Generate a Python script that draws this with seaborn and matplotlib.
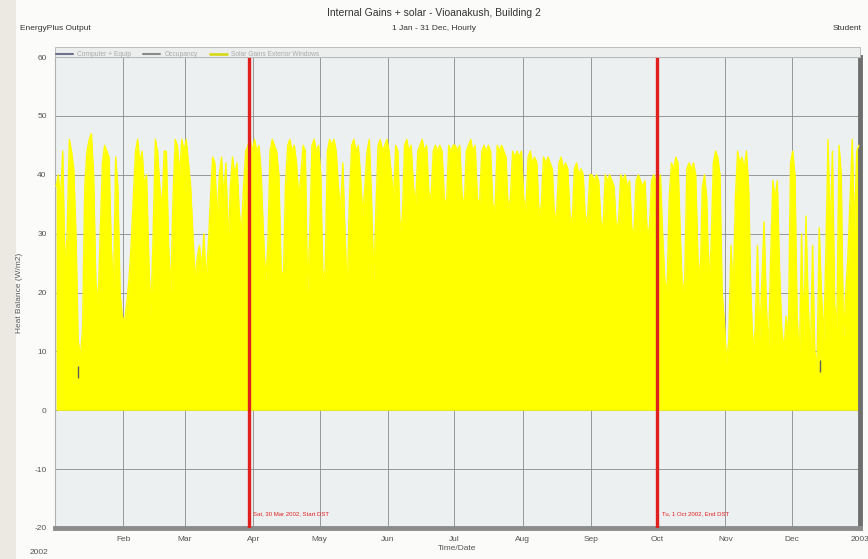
import numpy as np
import matplotlib.pyplot as plt
from matplotlib.patches import Rectangle
from matplotlib.lines import Line2D
import seaborn as sns

# Daily peak of "Solar Gains Exterior Windows" (W/m2)
jan = [38, 40, 36, 44, 24, 30, 46, 44, 41, 30, 12, 9, 14, 38, 44, 46, 47, 40, 22, 18, 30, 42, 45, 44, 43, 28, 20, 43, 38, 20, 16]
feb = [15, 18, 22, 28, 36, 44, 46, 42, 44, 38, 40, 26, 16, 30, 46, 44, 38, 34, 44, 44, 28, 20, 36, 46, 45, 40, 46, 44]
mar = [46, 42, 38, 30, 22, 26, 28, 24, 30, 22, 28, 36, 43, 42, 32, 40, 43, 36, 42, 28, 38, 43, 40, 42, 34, 30, 38, 44, 45, 46, 44]
apr = [46, 44, 45, 40, 30, 22, 28, 44, 46, 45, 44, 40, 24, 22, 38, 45, 46, 44, 45, 42, 36, 40, 45, 44, 20, 30, 45, 46, 44, 45]
may = [40, 22, 24, 44, 46, 45, 46, 44, 38, 34, 42, 30, 20, 36, 45, 46, 44, 45, 40, 33, 38, 44, 46, 36, 22, 34, 45, 46, 44, 45, 46]
jun = [44, 40, 36, 45, 44, 30, 33, 45, 46, 44, 45, 38, 35, 44, 45, 46, 44, 45, 37, 36, 44, 45, 44, 45, 44, 36, 35, 45, 44, 45]
jul = [45, 44, 45, 37, 34, 44, 45, 46, 44, 45, 36, 35, 44, 45, 44, 45, 44, 35, 34, 45, 44, 45, 44, 43, 34, 36, 44, 43, 44, 43, 44]
aug = [36, 34, 43, 44, 42, 43, 42, 33, 35, 43, 42, 43, 42, 41, 32, 34, 42, 43, 41, 42, 41, 33, 32, 41, 42, 40, 41, 40, 32, 33, 40]
sep = [40, 39, 40, 39, 32, 31, 40, 39, 40, 39, 38, 31, 32, 40, 39, 40, 38, 39, 31, 30, 39, 40, 39, 38, 39, 30, 31, 39, 40, 39]
oct_ = [38, 40, 30, 22, 20, 36, 42, 41, 43, 42, 30, 20, 22, 41, 42, 41, 42, 40, 26, 22, 38, 40, 36, 22, 28, 42, 44, 43, 40, 20, 15]
nov = [8, 12, 28, 20, 36, 44, 42, 43, 41, 44, 38, 20, 10, 14, 28, 12, 22, 32, 18, 10, 26, 39, 36, 39, 24, 14, 10, 16, 12, 42]
dec = [44, 40, 16, 8, 30, 12, 33, 18, 9, 28, 10, 7, 31, 20, 12, 26, 46, 30, 44, 18, 14, 45, 40, 12, 20, 26, 36, 46, 30, 44, 45]

month_names = ['Jan', 'Feb', 'Mar', 'Apr', 'May', 'Jun', 'Jul', 'Aug', 'Sep', 'Oct', 'Nov', 'Dec']
month_days = [31, 28, 31, 30, 31, 30, 31, 31, 30, 31, 30, 31]

# Short marks of the "Computer + Equip" series that show through
equip_days = [10.5, 347.0]
equip_lo = [5.5, 6.5]
equip_hi = [7.5, 8.5]

# Daylight saving markers
dst_days = [88.0, 273.0]
dst_labels = ['Sat, 30 Mar 2002, Start DST', 'Tu, 1 Oct 2002, End DST']

y_ticks = [60, 50, 40, 30, 20, 10, 0, -10, -20]

solar = np.array(jan + feb + mar + apr + may + jun + jul + aug + sep + oct_ + nov + dec, dtype=float)
days = np.arange(len(solar)) + 0.5
month_starts = np.concatenate([[0], np.cumsum(month_days)])

sns.set_style('white')
plt.rcParams['font.family'] = ['Liberation Sans', 'DejaVu Sans']

fig = plt.figure(figsize=(8.68, 5.59), dpi=100, facecolor='#ece9e2')
fig.patches.append(Rectangle((16 / 868, 0), 1, 1, transform=fig.transFigure,
                             facecolor='#fbfbfa', edgecolor='none', zorder=-10))
ax = fig.add_axes([55 / 868, 31 / 559, 805 / 868, 471 / 559])
ax.set_facecolor('#edf0f1')

# Yellow hourly band (daily peaks), filled down to zero
ax.fill_between(days, 0, solar, color='#ffff00', linewidth=0, zorder=2)
sns.lineplot(x=days, y=solar, color='#ffff00', linewidth=1.0, ax=ax, zorder=3)
ax.vlines(equip_days, equip_lo, equip_hi, color='#606060', linewidth=1.0, zorder=4)

# DST lines and labels
for d, lab in zip(dst_days, dst_labels):
    ax.axvline(d, color='#e0201c', linewidth=2.4, zorder=5)
    ax.text(d + 2, -18, lab, color='#e0201c', fontsize=4.3, va='bottom', ha='left', zorder=6)

ax.set_xlim(0, 365)
ax.set_ylim(-20, 60)
ax.set_yticks(y_ticks)
ax.set_yticklabels([str(v) for v in y_ticks])
ax.set_xticks(month_starts)
ax.set_xticklabels([''] + month_names[1:] + ['2003'])
ax.grid(True, color='#8a8a8a', linewidth=0.6, zorder=1)
ax.set_axisbelow(True)
ax.tick_params(axis='both', labelsize=6, colors='#555555', length=3, width=0.6, pad=3)

for side in ['left', 'top']:
    ax.spines[side].set_color('#b0b0b0')
    ax.spines[side].set_linewidth(0.8)
ax.spines['bottom'].set_color('#8c8c8c')
ax.spines['bottom'].set_linewidth(3.5)
ax.spines['right'].set_color('#6e6e6e')
ax.spines['right'].set_linewidth(3.5)

ax.set_xlabel('Time/Date', fontsize=6, color='#555555', labelpad=1)
ax.set_ylabel('Heat Balance (W/m2)', fontsize=6, color='#555555', labelpad=8)
ax.text(-0.02, -0.045, '2002', transform=ax.transAxes, fontsize=6, color='#555555',
        ha='center', va='top')

# Legend strip above the plot
ax.add_patch(Rectangle((0, 1.0), 1, 0.022, transform=ax.transAxes, facecolor='#eceeee',
                       edgecolor='#b5b5b5', linewidth=0.6, clip_on=False, zorder=6))
handles = [Line2D([], [], color='#6d7090', linewidth=1.5),
           Line2D([], [], color='#8a8a8a', linewidth=1.5),
           Line2D([], [], color='#d8d820', linewidth=2.0)]
leg = ax.legend(handles, ['Computer + Equip', 'Occupancy', 'Solar Gains Exterior Windows'],
                loc='lower left', bbox_to_anchor=(0.0, 0.996), ncol=3, frameon=False,
                fontsize=4.8, handlelength=2.6, columnspacing=1.8, borderaxespad=0,
                borderpad=0.1, handletextpad=0.6, labelcolor='#a8a8a8')
leg.set_zorder(7)

fig.text(0.5, 1 - 13 / 559, 'Internal Gains + solar - Vioanakush, Building 2', ha='center',
         va='center', fontsize=7.5, color='#333333')
fig.text(0.5, 1 - 29 / 559, '1 Jan - 31 Dec, Hourly', ha='center', va='center',
         fontsize=6, color='#333333')
fig.text(20 / 868, 1 - 29 / 559, 'EnergyPlus Output', ha='left', va='center',
         fontsize=6, color='#333333')
fig.text(862 / 868, 1 - 29 / 559, 'Student', ha='right', va='center',
         fontsize=6, color='#333333')

fig.savefig('out.png', dpi=100, facecolor=fig.get_facecolor())
